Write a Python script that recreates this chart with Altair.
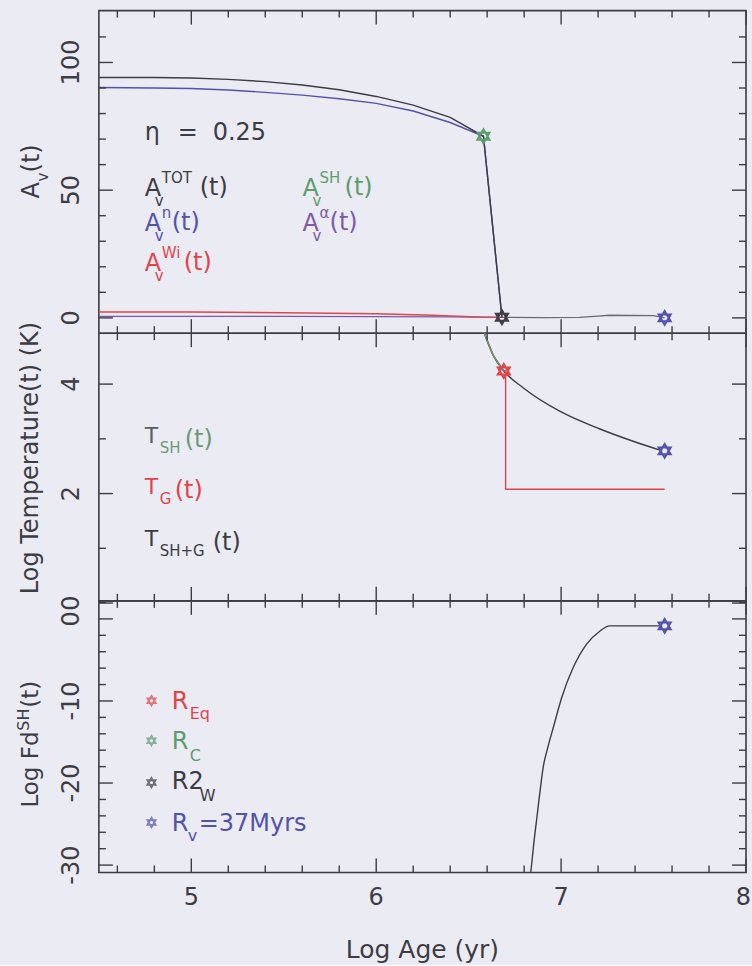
import altair as alt
import pandas as pd

FONT = "DejaVu Sans"
BG = "#ebebf3"
INK = "#3c3c44"
BLUE = "#5252ad"
RED = "#e2434b"
GREEN = "#5e9b6d"
PURPLE = "#7e5aa6"
GREY = "#6a6c70"
HEX = "M0,-1L0.866,0.5L-0.866,0.5Z M0,1L0.866,-0.5L-0.866,-0.5Z"
VBAR = "M0,-1L0,1"
HBAR = "M-1,0L1,0"

W = 648
H_TOP, H_MID, H_BOT = 323, 268, 272
X_DOMAIN = [4.5, 8.0]

# ---------------- data ----------------
# top panel : A_V(t)
age_tot = [4.50, 4.80, 5.00, 5.20, 5.40, 5.60, 5.80, 6.00, 6.20, 6.40, 6.58, 6.68]
av_tot = [94.1, 94.1, 93.9, 93.4, 92.5, 91.2, 89.3, 86.7, 83.3, 78.5, 71.1, 0.2]
age_n = [4.50, 4.80, 5.00, 5.20, 5.40, 5.60, 5.80, 6.00, 6.20, 6.40, 6.58, 6.68]
av_n = [90.2, 90.0, 89.8, 89.2, 88.3, 87.2, 85.8, 84.0, 81.0, 76.5, 71.1, 0.2]
age_alpha = [4.50, 5.00, 5.50, 6.00, 6.40, 6.68]
av_alpha = [0.6, 0.6, 0.6, 0.5, 0.4, 0.2]
age_wi = [4.50, 5.00, 5.50, 6.00, 6.30, 6.58, 6.68]
av_wi = [2.3, 2.3, 2.0, 1.6, 1.0, 0.3, 0.2]
age_sh = [6.68, 6.90, 7.10, 7.20, 7.26, 7.50, 7.56]
av_sh = [0.2, 0.1, 0.2, 0.7, 1.0, 0.9, 0.0]
star_top_age = [6.58, 6.68, 7.56]
star_top_val = [71.1, 0.2, 0.0]
star_top_col = [GREEN, INK, BLUE]

# middle panel : log temperature
age_tsg = [6.585, 6.635, 6.69, 6.796, 6.99, 7.21, 7.386, 7.547]
t_sg = [4.93, 4.51, 4.24, 3.93, 3.51, 3.18, 2.96, 2.78]
age_tg = [6.585, 6.635, 6.69, 6.70, 6.70, 7.56]
t_g = [4.93, 4.51, 4.24, 4.24, 2.08, 2.08]
age_tsh = [6.585, 6.61, 6.635, 6.69]
t_sh = [4.93, 4.70, 4.51, 4.24]
star_mid_age = [6.69, 7.56]
star_mid_val = [4.24, 2.78]
star_mid_col = [RED, BLUE]

# bottom panel : log Fd^SH
age_fd = [6.836, 6.852, 6.869, 6.886, 6.903, 6.93, 6.957, 7.003, 7.066, 7.137, 7.209, 7.262, 7.40, 7.547]
fd = [-30.9, -27.4, -24.2, -21.0, -18.1, -15.5, -13.3, -9.6, -5.9, -3.1, -1.5, -0.85, -0.85, -0.85]
star_bot_age = [7.56]
star_bot_val = [-0.85]
star_bot_col = [BLUE]

# ticks and tick labels
x_major = [5, 6, 7, 8]
x_minor = [4.6, 4.8, 5.2, 5.4, 5.6, 5.8, 6.2, 6.4, 6.6, 6.8, 7.2, 7.4, 7.6, 7.8]
x_labels = ["5", "6", "7", "8"]
x_title = "Log Age (yr)"

MAJ, MIN = 14, 7   # tick lengths in pixels


def xscale():
    return alt.Scale(domain=X_DOMAIN, nice=False, zero=False)


def yscale(dom):
    return alt.Scale(domain=dom, nice=False, zero=False)


def tick_layers(ydom, H, ymaj, ymin):
    """Inward ticks on the four sides, drawn as bar-shaped point symbols."""
    yspan = ydom[1] - ydom[0]
    xspan = X_DOMAIN[1] - X_DOMAIN[0]
    vrows, hrows = [], []
    for vals, L in ((x_major, MAJ), (x_minor, MIN)):
        dy = (L / 2) / H * yspan
        for v in vals:
            vrows.append((v, ydom[0] + dy, L * L))
            vrows.append((v, ydom[1] - dy, L * L))
    for vals, L in ((ymaj, MAJ), (ymin, MIN)):
        dx = (L / 2) / W * xspan
        for v in vals:
            hrows.append((X_DOMAIN[0] + dx, v, L * L))
            hrows.append((X_DOMAIN[1] - dx, v, L * L))
    out = []
    for rows, shape in ((vrows, VBAR), (hrows, HBAR)):
        d = pd.DataFrame(rows, columns=["x", "y", "s"])
        out.append(alt.Chart(d).mark_point(shape=shape, filled=False, strokeWidth=1.4,
                                           color=INK, opacity=1).encode(
            x=alt.X("x:Q", scale=xscale(), axis=None),
            y=alt.Y("y:Q", scale=yscale(ydom), axis=None),
            size=alt.Size("s:Q", scale=None, legend=None)))
    return out


def ylabels(ydom, vals):
    d = pd.DataFrame({"v": vals, "t": [str(v) for v in vals]})
    return alt.Chart(d).mark_text(angle=270, align="center", baseline="alphabetic",
                                  font=FONT, fontSize=24, color=INK).encode(
        y=alt.Y("v:Q", scale=yscale(ydom), axis=None),
        x=alt.value(-20), text="t:N")


def xlabels(H):
    d = pd.DataFrame({"v": x_major, "t": x_labels})
    inner = alt.Chart(d[d.v < 8]).mark_text(align="center", baseline="alphabetic",
                                            font=FONT, fontSize=24, color=INK).encode(
        x=alt.X("v:Q", scale=xscale(), axis=None), y=alt.value(H + 33), text="t:N")
    edge = alt.Chart(d[d.v >= 8]).mark_text(align="right", baseline="alphabetic",
                                            font=FONT, fontSize=24, color=INK, dx=5).encode(
        x=alt.X("v:Q", scale=xscale(), axis=None), y=alt.value(H + 33), text="t:N")
    title = alt.Chart(pd.DataFrame({"t": [x_title]})).mark_text(
        align="center", baseline="alphabetic", font=FONT, fontSize=25, color=INK).encode(
        x=alt.value(W / 2), y=alt.value(H + 86), text="t:N")
    return [inner, edge, title]


def line(ages, vals, color, ydom, width=1.4, interp="linear"):
    d = pd.DataFrame({"age": ages, "v": vals, "i": list(range(len(ages)))})
    return alt.Chart(d).mark_line(color=color, strokeWidth=width, clip=True,
                                  interpolate=interp).encode(
        x=alt.X("age:Q", scale=xscale(), axis=None),
        y=alt.Y("v:Q", scale=yscale(ydom), axis=None),
        order="i:Q")


def stars(ages, vals, cols, ydom, size=196):
    d = pd.DataFrame({"age": ages, "v": vals, "c": cols})
    return alt.Chart(d).mark_point(shape=HEX, size=size, filled=False,
                                   strokeWidth=2, opacity=1).encode(
        x=alt.X("age:Q", scale=xscale(), axis=None),
        y=alt.Y("v:Q", scale=yscale(ydom), axis=None),
        color=alt.Color("c:N", scale=None, legend=None))


def texts(pieces, angle=0, align="left"):
    d = pd.DataFrame(pieces, columns=["t", "px", "py", "fs", "c"])
    return alt.Chart(d).mark_text(align=align, baseline="alphabetic", font=FONT,
                                  angle=angle).encode(
        x=alt.X("px:Q", scale=None, axis=None),
        y=alt.Y("py:Q", scale=None, axis=None),
        text="t:N",
        size=alt.Size("fs:Q", scale=None, legend=None),
        color=alt.Color("c:N", scale=None, legend=None))


def panel(layers, H):
    return alt.layer(*layers).properties(width=W, height=H)


# ---------------- top panel ----------------
YT = [-6.0, 120.3]
YT_MAJ, YT_MIN = [0, 50, 100], [10, 20, 30, 40, 60, 70, 80, 90, 110]
top_legend = [
    ("η", 46, 130, 24, INK), ("=", 79, 130, 24, INK), ("0.25", 114, 130, 24, INK),
    ("A", 46, 186, 24, INK), ("v", 56, 196, 15, INK), ("TOT", 63, 173, 15, INK), ("(t)", 101, 185, 24, INK),
    ("A", 204, 186, 24, GREEN), ("v", 214, 196, 15, GREEN), ("SH", 221, 173, 15, GREEN), ("(t)", 246, 185, 24, GREEN),
    ("A", 46, 221, 24, BLUE), ("v", 56, 231, 15, BLUE), ("n", 63, 208, 15, BLUE), ("(t)", 73, 220, 24, BLUE),
    ("A", 204, 221, 24, PURPLE), ("v", 214, 231, 15, PURPLE), ("α", 221, 208, 15, PURPLE), ("(t)", 231, 220, 24, PURPLE),
    ("A", 46, 261, 24, RED), ("v", 56, 271, 15, RED), ("Wi", 63, 248, 15, RED), ("(t)", 85, 260, 24, RED),
]
top_title = [("A", -60, 188, 24, INK), ("v", -51, 171, 15, INK), ("(t)", -60, 162, 24, INK)]
top = panel([
    line(age_alpha, av_alpha, PURPLE, YT),
    line(age_wi, av_wi, RED, YT),
    line(age_sh, av_sh, GREY, YT),
    line(age_n, av_n, BLUE, YT),
    line(age_tot, av_tot, INK, YT),
    *tick_layers(YT, H_TOP, YT_MAJ, YT_MIN),
    ylabels(YT, YT_MAJ),
    stars(star_top_age, star_top_val, star_top_col, YT),
    texts(top_legend),
    texts(top_title, angle=270),
], H_TOP)

# ---------------- middle panel ----------------
YM = [0.04, 4.93]
YM_MAJ, YM_MIN = [0, 2, 4], [1, 3]
mid_legend = [
    ("T", 46, 110, 22, "#5a5f60"), ("SH", 61, 120, 15, "#6b9a78"), ("(t)", 86, 114, 24, "#6b9a78"),
    ("T", 46, 161, 22, RED), ("G", 61, 171, 15, RED), ("(t)", 76, 165, 24, RED),
    ("T", 46, 213, 22, INK), ("SH+G", 61, 223, 15, INK), ("(t)", 114, 217, 24, INK),
]
mid_title = [("Log Temperature(t) (K)", -61, 125, 24, INK)]
mid = panel([
    line(age_tsg, t_sg, INK, YM, interp="monotone"),
    line(age_tg, t_g, RED, YM),
    line(age_tsh, t_sh, GREEN, YM),
    *tick_layers(YM, H_MID, YM_MAJ, YM_MIN),
    ylabels(YM, YM_MAJ),
    stars(star_mid_age, star_mid_val, star_mid_col, YM),
    texts(mid_legend),
    texts(mid_title, angle=270, align="center"),
], H_MID)

# ---------------- bottom panel ----------------
YB = [-30.9, 2.2]
YB_MAJ = [0, -10, -20, -30]
YB_MIN = [v for v in range(-30, 3, 2) if v % 10 != 0]
leg_star_x = [52.7, 52.7, 52.7, 52.7]
leg_star_y = [100, 140, 182, 222]
leg_star_c = [RED, GREEN, INK, BLUE]
leg_stars = alt.Chart(pd.DataFrame({"px": leg_star_x, "py": leg_star_y, "c": leg_star_c})).mark_point(
    shape=HEX, size=90, filled=False, strokeWidth=1.8).encode(
    x=alt.X("px:Q", scale=None, axis=None),
    y=alt.Y("py:Q", scale=None, axis=None),
    color=alt.Color("c:N", scale=None, legend=None))
bot_legend = [
    ("R", 73, 108, 24, RED), ("Eq", 91, 118, 16, RED),
    ("R", 73, 148, 24, GREEN), ("C", 91, 160, 16, GREEN),
    ("R2", 73, 188, 24, INK), ("W", 101, 200, 16, INK),
    ("R", 73, 230, 24, BLUE), ("v", 89, 240, 16, BLUE), ("=37Myrs", 100, 230, 24, BLUE),
]
bot_title = [("Log Fd", -61, 207, 23, INK), ("SH", -70, 130, 16, INK), ("(t)", -61, 107, 23, INK)]
bot = panel([
    line(age_fd, fd, INK, YB, interp="monotone"),
    *tick_layers(YB, H_BOT, YB_MAJ, YB_MIN),
    ylabels(YB, YB_MAJ),
    *xlabels(H_BOT),
    stars(star_bot_age, star_bot_val, star_bot_col, YB),
    leg_stars,
    texts(bot_legend),
    texts(bot_title, angle=270),
], H_BOT)

chart = alt.vconcat(top, mid, bot, spacing=0, bounds="flush").properties(
    padding={"left": 15, "top": 6, "right": 0, "bottom": 0}
).configure(background=BG).configure_view(stroke=INK, strokeWidth=1.6)

chart.save("out.html", embed_options={"renderer": "svg", "actions": False})
